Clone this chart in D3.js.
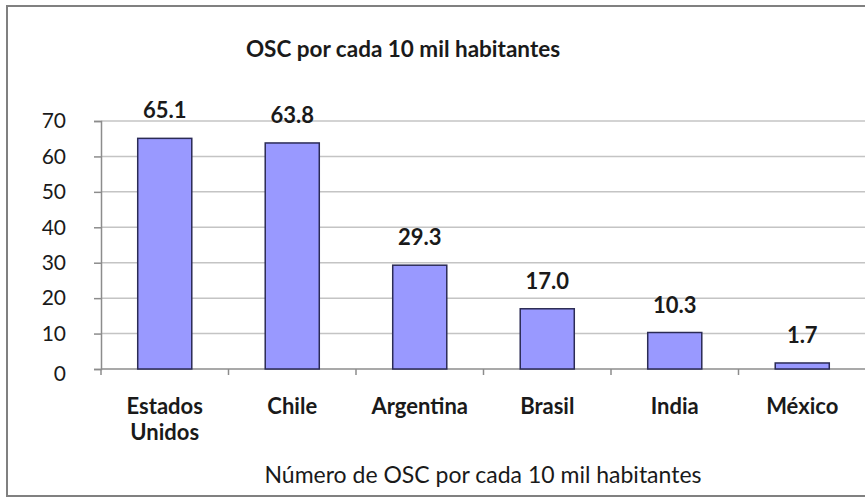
<!DOCTYPE html>
<html>
<head>
<meta charset="utf-8">
<script src="https://cdn.jsdelivr.net/npm/d3@7"></script>
<style>
  html, body { margin: 0; padding: 0; background: #fff; }
  svg { display: block; font-family: Lato, "Open Sans", sans-serif; }
</style>
</head>
<body>
<div id="chart"></div>
<script>
var CATEGORIES = ["Estados Unidos", "Chile", "Argentina", "Brasil", "India", "México"];
var VALUES = [65.1, 63.8, 29.3, 17.0, 10.3, 1.7];
var Y_TICKS = [0, 10, 20, 30, 40, 50, 60, 70];

var TITLE = "OSC por cada 10 mil habitantes";
var X_TITLE = "Número de OSC por cada 10 mil habitantes";

var MARGIN = {left: 101, right: -1, top: 121, bottom: 131};
var width = 865, height = 500;

var svg = d3.select("#chart").append("svg")
    .attr("width", width)
    .attr("height", height);

// outer frame (cut on the right like the source picture)
svg.append("rect")
    .attr("x", 7).attr("y", 6)
    .attr("width", 880).attr("height", 490)
    .attr("fill", "white")
    .attr("stroke", "#808080")
    .attr("stroke-width", 2);

var plotW = width - MARGIN.left - MARGIN.right;
var plotH = height - MARGIN.top - MARGIN.bottom;

var g = svg.append("g")
    .attr("transform", "translate(" + MARGIN.left + "," + MARGIN.top + ")");

var x = d3.scaleBand().domain(CATEGORIES).range([0, plotW])
    .paddingInner(0.576).paddingOuter(0.288);
var y = d3.scaleLinear().domain([0, 70]).range([plotH, 0]);

// gridlines
g.append("g")
    .selectAll("line")
    .data(Y_TICKS.filter(function(t) { return t > 0; }))
    .enter().append("line")
        .attr("x1", 0).attr("x2", plotW)
        .attr("y1", function(d) { return y(d); })
        .attr("y2", function(d) { return y(d); })
        .attr("stroke", "#c4c4c4")
        .attr("stroke-width", 1.5);

// y axis
var yAxis = g.append("g")
    .call(d3.axisLeft(y).tickValues(Y_TICKS).tickSize(7).tickPadding(28).tickFormat(d3.format("d")));
yAxis.select(".domain").attr("stroke", "#8c8c8c").attr("stroke-width", 1.5);
yAxis.selectAll(".tick line").attr("stroke", "#8c8c8c").attr("stroke-width", 1.5);
yAxis.selectAll(".tick text")
    .attr("font-size", "21px")
    .attr("fill", "#1a1a1a")
    .attr("font-family", "Lato, sans-serif");
yAxis.select(".tick text").attr("dy", "0.55em");

// x axis line and boundary ticks
var gap = x.step() - x.bandwidth();
var bounds = CATEGORIES.map(function(c) { return x(c) - gap / 2; });
bounds.push(plotW);
g.append("line")
    .attr("x1", 0).attr("x2", plotW)
    .attr("y1", plotH).attr("y2", plotH)
    .attr("stroke", "#8c8c8c").attr("stroke-width", 1.5);
g.append("g").selectAll("line")
    .data(bounds)
    .enter().append("line")
        .attr("x1", function(d) { return d; })
        .attr("x2", function(d) { return d; })
        .attr("y1", plotH).attr("y2", plotH + 6)
        .attr("stroke", "#8c8c8c").attr("stroke-width", 1.5);

// bars
g.append("g").selectAll("rect")
    .data(VALUES)
    .enter().append("rect")
        .attr("x", function(d, i) { return x(CATEGORIES[i]); })
        .attr("y", function(d) { return y(d); })
        .attr("width", x.bandwidth())
        .attr("height", function(d) { return plotH - y(d); })
        .attr("fill", "#9999ff")
        .attr("stroke", "#2b2b55")
        .attr("stroke-width", 1.5);

// value labels
g.append("g").selectAll("text")
    .data(VALUES)
    .enter().append("text")
        .attr("x", function(d, i) { return x(CATEGORIES[i]) + x.bandwidth() / 2; })
        .attr("y", function(d) { return y(d) - 20; })
        .attr("text-anchor", "middle")
        .attr("font-size", "22px")
        .attr("font-weight", "bold")
        .attr("fill", "#1a1a1a")
        .text(function(d) { return d.toFixed(1); });

// category labels
CATEGORIES.forEach(function(c) {
    var words = c.split(" ");
    var t = g.append("text")
        .attr("x", x(c) + x.bandwidth() / 2)
        .attr("y", plotH + 45)
        .attr("text-anchor", "middle")
        .attr("font-size", "22px")
        .attr("font-weight", "bold")
        .attr("fill", "#1a1a1a");
    words.forEach(function(w, i) {
        t.append("tspan")
            .attr("x", x(c) + x.bandwidth() / 2)
            .attr("dy", i === 0 ? 0 : 26)
            .text(w);
    });
});

// titles
svg.append("text")
    .attr("x", 403).attr("y", 57)
    .attr("text-anchor", "middle")
    .attr("font-size", "22.5px")
    .attr("font-weight", "bold")
    .attr("fill", "#1a1a1a")
    .text(TITLE);

svg.append("text")
    .attr("x", 483).attr("y", 483)
    .attr("text-anchor", "middle")
    .attr("font-size", "23px")
    .attr("fill", "#1a1a1a")
    .text(X_TITLE);
</script>
</body>
</html>
